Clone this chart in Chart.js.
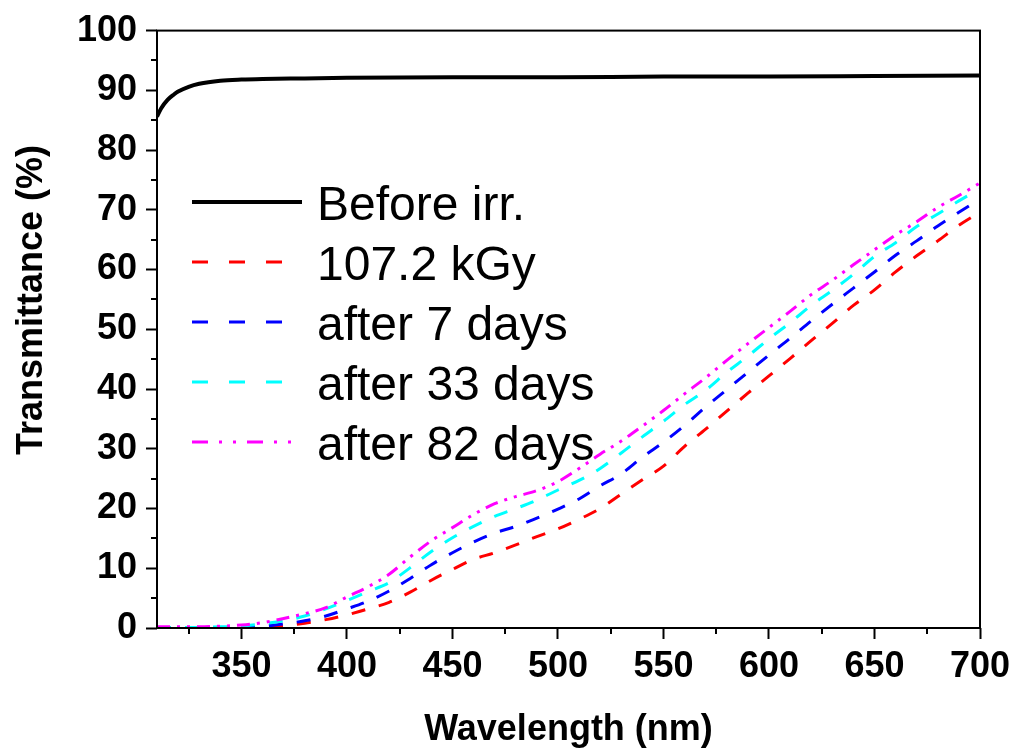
<!DOCTYPE html>
<html>
<head>
<meta charset="utf-8">
<script src="https://cdn.jsdelivr.net/npm/chart.js@4/dist/chart.umd.min.js"></script>
<style>
  html, body { margin: 0; padding: 0; background: #fff; }
  #wrap { width: 1024px; height: 749px; }
</style>
</head>
<body>
<div id="wrap"><canvas id="transChart" width="1024" height="749"></canvas></div>
<script>
const FONT = '"Liberation Sans", Arial, Helvetica, sans-serif';

// wavelengths (nm) read for the irradiated samples
const wavelengths = [310, 320, 330, 340, 350, 360, 370, 380, 390, 400,
                     410, 420, 430, 440, 450, 460, 470, 480, 490, 500,
                     510, 520, 530, 540, 550, 560, 570, 580, 590, 600,
                     610, 620, 630, 640, 650, 660, 670, 680, 690, 700];

const dose107 = [0, 0, 0, 0.05, 0.1, 0.15, 0.4, 0.8, 1.4, 2.2,
                 3.2, 4.3, 6.0, 8.0, 9.8, 11.5, 12.6, 13.9, 15.3, 16.6,
                 18.2, 20.0, 22.4, 24.8, 27.1, 30.4, 33.3, 36.3, 39.3, 42.2,
                 45.1, 48.1, 51.0, 54.0, 56.6, 59.6, 62.3, 64.8, 67.4, 69.6];

const after7 = [0, 0, 0.05, 0.1, 0.1, 0.3, 0.7, 1.2, 2.0, 3.2,
                4.5, 6.2, 8.3, 10.6, 12.6, 14.4, 15.9, 17.0, 18.4, 19.9,
                21.6, 23.8, 25.8, 28.6, 31.1, 33.9, 37.0, 39.9, 42.8, 45.7,
                48.5, 51.4, 54.2, 56.9, 59.6, 62.4, 64.8, 67.3, 69.6, 71.8];

const after33 = [0, 0.05, 0.1, 0.2, 0.3, 0.7, 1.2, 2.0, 3.2, 4.6,
                 6.1, 7.6, 10.1, 12.8, 15.1, 17.0, 18.7, 20.0, 21.4, 23.1,
                 24.7, 26.7, 29.3, 32.0, 34.6, 37.4, 39.8, 42.8, 45.5, 48.4,
                 51.1, 54.0, 56.5, 59.2, 62.2, 64.5, 67.2, 69.3, 71.5, 73.5];

const after82 = [0.2, 0.2, 0.2, 0.3, 0.5, 0.9, 1.6, 2.4, 3.4, 5.2,
                 6.9, 9.0, 11.9, 14.6, 16.8, 19.0, 20.8, 22.0, 23.0, 24.5,
                 26.7, 29.1, 31.3, 33.8, 36.4, 39.2, 41.9, 44.8, 47.6, 50.3,
                 53.0, 55.8, 58.2, 60.8, 63.3, 65.8, 68.0, 70.4, 72.4, 74.5];

// unirradiated sample, denser at the short-wavelength edge
const beforeWl = [310, 312, 315, 318, 320, 325, 330, 340, 350, 360, 380, 400, 450, 500, 550, 600, 650, 700];
const beforeT  = [85.6, 87.0, 88.4, 89.3, 89.8, 90.6, 91.1, 91.6, 91.8, 91.9, 92.0, 92.1, 92.2, 92.2, 92.3, 92.3, 92.4, 92.5];

const seriesLabels = ['Before irr.', '107.2 kGy', 'after 7 days', 'after 33 days', 'after 82 days'];

const xMajorTicks = [350, 400, 450, 500, 550, 600, 650, 700];
const xMinorTicks = [325, 375, 425, 475, 525, 575, 625, 675];
const yMajorTicks = [0, 10, 20, 30, 40, 50, 60, 70, 80, 90, 100];
const yMinorTicks = [5, 15, 25, 35, 45, 55, 65, 75, 85, 95];

const xTitle = 'Wavelength (nm)';
const yTitle = 'Transmittance (%)';

function toPoints(xs, ys) {
  return xs.map((x, i) => ({ x: x, y: ys[i] }));
}

function dashedSet(label, values, color, dash, legendDash, order) {
  return {
    label: label,
    data: toPoints(wavelengths, values),
    borderColor: color,
    borderWidth: 3,
    borderDash: dash,
    legendDash: legendDash,
    pointRadius: 0,
    cubicInterpolationMode: 'monotone',
    fill: false,
    order: order
  };
}

const datasets = [
  {
    label: seriesLabels[0],
    data: toPoints(beforeWl, beforeT),
    borderColor: '#000000',
    borderWidth: 4,
    borderDash: [],
    legendDash: [],
    pointRadius: 0,
    cubicInterpolationMode: 'monotone',
    fill: false,
    order: 5
  },
  dashedSet(seriesLabels[1], dose107, '#ff0000', [14, 14], [16, 21], 4),
  dashedSet(seriesLabels[2], after7, '#0000ff', [14, 14], [16, 21], 3),
  dashedSet(seriesLabels[3], after33, '#00ffff', [14, 14], [16, 21], 2),
  dashedSet(seriesLabels[4], after82, '#ff00ff', [13, 7, 3, 7, 3, 7], [16, 11, 3, 11, 3, 11], 1)
];

// minor ticks, box frame, axis titles and the in-plot legend
const decorPlugin = {
  id: 'decor',
  afterDraw(chart) {
    const ctx = chart.ctx;
    const area = chart.chartArea;
    const xs = chart.scales.x;
    const ys = chart.scales.y;

    ctx.save();
    ctx.strokeStyle = '#000';
    ctx.lineWidth = 2;

    // minor ticks
    ctx.beginPath();
    xMinorTicks.forEach(v => {
      const px = Math.round(xs.getPixelForValue(v));
      ctx.moveTo(px, area.bottom);
      ctx.lineTo(px, area.bottom + 6);
    });
    yMinorTicks.forEach(v => {
      const py = Math.round(ys.getPixelForValue(v));
      ctx.moveTo(area.left - 6, py);
      ctx.lineTo(area.left, py);
    });
    ctx.stroke();

    // frame
    ctx.strokeRect(area.left, area.top, area.right - area.left, area.bottom - area.top);

    // axis titles
    ctx.fillStyle = '#000';
    ctx.font = 'bold 36px ' + FONT;
    ctx.textAlign = 'center';
    ctx.textBaseline = 'alphabetic';
    ctx.fillText(xTitle, (area.left + area.right) / 2, 740);

    ctx.translate(42, 300);
    ctx.rotate(-Math.PI / 2);
    ctx.fillText(yTitle, 0, 0);
    ctx.restore();

    // legend
    ctx.save();
    ctx.font = '48px ' + FONT;
    ctx.textAlign = 'left';
    ctx.textBaseline = 'alphabetic';
    ctx.fillStyle = '#000';
    chart.data.datasets.forEach((ds, i) => {
      const y = 202 + i * 60;
      ctx.beginPath();
      ctx.setLineDash(ds.legendDash);
      ctx.strokeStyle = ds.borderColor;
      ctx.lineWidth = ds.borderWidth;
      ctx.moveTo(192, y);
      ctx.lineTo(302, y);
      ctx.stroke();
      ctx.setLineDash([]);
      ctx.fillText(ds.label, 317, y + 18);
    });
    ctx.restore();
  }
};

const tickFont = { family: FONT, size: 36, weight: 'bold' };

new Chart(document.getElementById('transChart'), {
  type: 'line',
  data: { datasets: datasets },
  options: {
    responsive: false,
    animation: false,
    devicePixelRatio: 1,
    layout: { padding: { top: 23, right: 44, left: 0, bottom: 0 } },
    plugins: {
      legend: { display: false },
      tooltip: { enabled: false }
    },
    scales: {
      x: {
        type: 'linear',
        min: 310,
        max: 700,
        afterBuildTicks: s => { s.ticks = xMajorTicks.map(v => ({ value: v })); },
        afterFit: s => { s.height = 121; },
        border: { display: false },
        grid: { drawOnChartArea: false, tickLength: 11, tickWidth: 2, tickColor: '#000' },
        ticks: { color: '#000', font: tickFont, padding: 6, maxRotation: 0, autoSkip: false }
      },
      y: {
        type: 'linear',
        min: 0,
        max: 100,
        afterBuildTicks: s => { s.ticks = yMajorTicks.map(v => ({ value: v })); },
        afterFit: s => { s.width = 157; },
        border: { display: false },
        grid: { drawOnChartArea: false, tickLength: 11, tickWidth: 2, tickColor: '#000' },
        ticks: { color: '#000', font: tickFont, padding: 9, autoSkip: false }
      }
    }
  },
  plugins: [decorPlugin]
});
</script>
</body>
</html>
